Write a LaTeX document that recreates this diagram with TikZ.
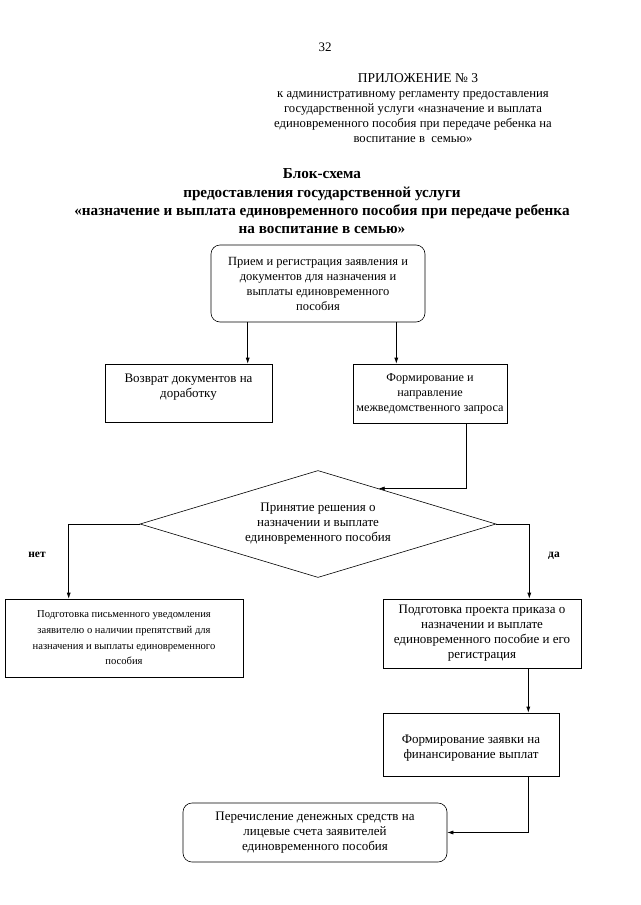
\documentclass[tikz,border=0pt]{standalone}
\usepackage{fontspec}
\setmainfont{Liberation Serif}
\usetikzlibrary{arrows.meta,shapes.geometric,calc}

\begin{document}
\begin{tikzpicture}[x=1pt,y=-1pt]
\tikzstyle{block} = [
	shape=rectangle,
	draw=black, %border of the box
	line width=0.6pt,
	align=center,
	inner sep=1pt,
	font=\fontsize{13}{15}\selectfont
];
\tikzstyle{roundblock} = [block, rounded corners=9pt];
\tikzstyle{decision} = [block, shape=diamond, aspect=3.3, inner sep=0pt];
\tikzstyle{answer} = [font=\fontsize{11.5}{13}\selectfont\bfseries];
\tikzstyle{arr} = [-{Latex[length=6pt,width=4pt]}, line width=0.6pt, color=black];

\useasboundingbox (0,0) rectangle (640,905);

%header of the page
\node (page) at (325,47) {\fontsize{13}{15}\selectfont 32};
\node (appendix) at (418,78) {\fontsize{13.5}{15}\selectfont ПРИЛОЖЕНИЕ №~3};
\node[align=center, font=\fontsize{12.7}{15}\selectfont] (reglament) at (413,117.5)
	{к административному регламенту предоставления\\
	 государственной услуги «назначение и выплата\\
	 единовременного пособия при передаче ребенка на\\
	 воспитание в \ семью»};
\node[align=center, font=\fontsize{15.2}{18.3}\selectfont\bfseries] (title) at (322,201.5)
	{Блок-схема\\
	 предоставления государственной услуги\\
	 «назначение и выплата единовременного пособия при передаче ребенка\\
	 на воспитание в семью»};

%blocks
\node[roundblock, minimum width=214, minimum height=77, font=\fontsize{12.5}{15}\selectfont] (priem) at (318,283.5)
	{Прием и регистрация заявления и\\документов для назначения и\\выплаты единовременного\\пособия};
\node[block, minimum width=167, minimum height=58] (vozvrat) at (188.5,393)
	{Возврат документов на\\доработку\\ \mbox{}};
\node[block, minimum width=154, minimum height=59, font=\fontsize{12.2}{15}\selectfont] (zapros) at (430,393.5)
	{Формирование и\\направление\\межведомственного запроса};
\node[decision, minimum width=356, minimum height=107] (reshenie) at (318,524)
	{Принятие решения о\\назначении и выплате\\единовременного пособия};
\node[block, minimum width=238, minimum height=78, font=\fontsize{10.6}{15.7}\selectfont] (uvedom) at (124,638)
	{Подготовка письменного уведомления\\заявителю о наличии препятствий для\\назначения и выплаты единовременного\\пособия};
\node[block, minimum width=198, minimum height=69] (prikaz) at (482,633.5)
	{Подготовка проекта приказа о\\назначении и выплате\\единовременного пособие и его\\регистрация};
\node[block, minimum width=176, minimum height=63] (zayavka) at (471,744.5)
	{\mbox{}\\Формирование заявки на\\финансирование выплат};
\node[roundblock, minimum width=264, minimum height=59] (perechislenie) at (315,832.5)
	{Перечисление денежных средств на\\лицевые счета заявителей\\единовременного пособия};

\node[answer] (net) at (37,555) {нет};
\node[answer] (da) at (554,556) {да};

%straight arrows
\path
	([xshift=37pt]priem.south west) edge[arr] ([xshift=37pt]priem.south west |- vozvrat.north)
	([xshift=-29pt]priem.south east) edge[arr] ([xshift=-29pt]priem.south east |- zapros.north)
	([xshift=-31pt]zayavka.north east |- prikaz.south) edge[arr] ([xshift=-31pt]zayavka.north east)
;

%arrows with a bend
\draw[arr] ([xshift=-41pt]zapros.south east) |- ($(reshenie.north)!0.34!(reshenie.east)$);
\draw[arr] (reshenie.west) -| ([xshift=64pt]uvedom.north west);
\draw[arr] (reshenie.east) -| ([xshift=-52pt]prikaz.north east);
\draw[arr] ([xshift=-31pt]zayavka.south east) |- (perechislenie.east);

\end{tikzpicture}
\end{document}
